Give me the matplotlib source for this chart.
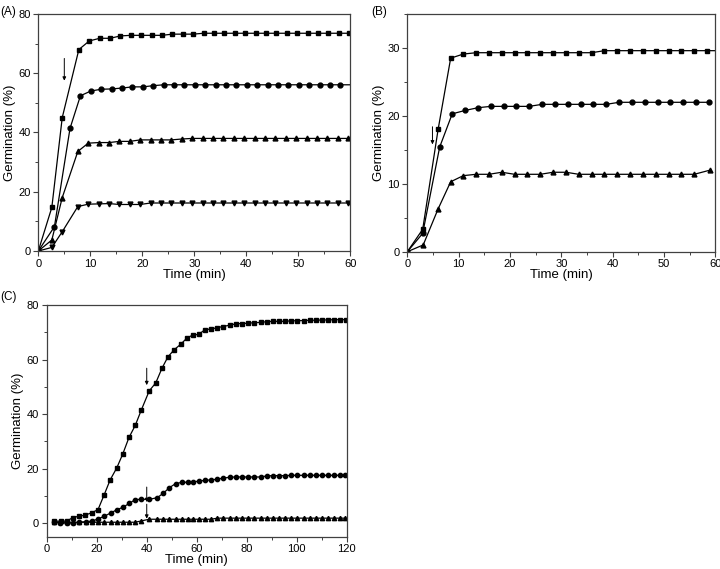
import matplotlib
matplotlib.use('Agg')
import matplotlib.pyplot as plt
from matplotlib.ticker import MultipleLocator

plt.rcParams['font.family'] = ['Liberation Sans', 'DejaVu Sans']

# Panel A
a_sq_t = [0, 2.6, 4.6, 7.8, 9.8, 11.8, 13.8, 15.8, 17.8, 19.8, 21.8, 23.8, 25.8, 27.8, 29.8,
          31.8, 33.8, 35.8, 37.8, 39.8, 41.8, 43.8, 45.8, 47.8, 49.8, 51.8, 53.8, 55.8, 57.8, 59.8]
a_sq = [0, 14.7, 45.0, 68.0, 70.9, 71.8, 71.8, 72.6, 72.8, 72.8, 72.8, 72.8, 73.2, 73.2, 73.2] + [73.5] * 15
a_ci_t = [0, 3.1, 6.1, 8.1, 10.1, 12.1, 14.1, 16.1, 18.1, 20.1, 22.1, 24.1, 26.1, 28.1, 30.1,
          32.1, 34.1, 36.1, 38.1, 40.1, 42.1, 44.1, 46.1, 48.1, 50.1, 52.1, 54.1, 56.1, 58.1, 60.5]
a_ci = [0, 8.2, 41.4, 52.4, 54.0, 54.6, 54.7, 55.0, 55.4, 55.4, 55.8] + [56.1] * 19
a_tr_t = [0, 2.6, 4.6, 7.6, 9.6, 11.6, 13.6, 15.6, 17.6, 19.6, 21.6, 23.6, 25.6, 27.6, 29.6,
          31.6, 33.6, 35.6, 37.6, 39.6, 41.6, 43.6, 45.6, 47.6, 49.6, 51.6, 53.6, 55.6, 57.6, 59.6]
a_up = [0, 3.7, 18.0, 33.6, 36.4, 36.6, 36.6, 37.0, 37.0, 37.5, 37.5, 37.5, 37.5, 37.8] + [38.0] * 16
a_dn = [0, 1.2, 6.5, 15.0, 15.8, 15.9, 16.0, 15.7, 15.7, 15.7] + [16.2] * 20

# Panel B
b_sq_t = [0, 3.0, 6.0, 8.45, 10.9, 13.4, 15.9, 18.4, 20.9, 23.4, 25.9, 28.4, 30.9, 33.4, 35.9,
          38.4, 40.9, 43.4, 45.9, 48.4, 50.9, 53.4, 55.9, 58.4, 60.9]
b_sq = [0, 3.3, 18.0, 28.5, 29.1, 29.3] + [29.3] * 9 + [29.6] * 10
b_ci_t = [0, 3.0, 6.3, 8.75, 11.25, 13.75, 16.25, 18.75, 21.25, 23.75, 26.25, 28.75, 31.25,
          33.75, 36.25, 38.75, 41.25, 43.75, 46.25, 48.75, 51.25, 53.75, 56.25, 58.75]
b_ci = [0, 2.7, 15.4, 20.3, 20.8, 21.2] + [21.4] * 4 + [21.7] * 6 + [22.0] * 8
b_tr_t = [0, 3.1, 6.0, 8.45, 10.9, 13.4, 15.9, 18.4, 20.9, 23.4, 25.9, 28.4, 30.9, 33.4, 35.9,
          38.4, 40.9, 43.4, 45.9, 48.4, 50.9, 53.4, 55.9, 58.9]
b_tr = [0, 1.0, 6.3, 10.3, 11.2, 11.4, 11.4, 11.7, 11.4, 11.4, 11.4, 11.7, 11.7] + [11.4] * 10 + [12.0]

# Panel C
c_sq_t = [2.9, 5.6, 8.0, 10.4, 12.9, 15.4, 18.0, 20.5, 22.9, 25.4, 28.0, 30.4, 32.9, 35.4, 37.8,
          41.0, 43.6, 46.1, 48.5, 51.0, 53.6, 56.0, 58.4, 60.8, 63.2, 65.6, 68.0, 70.4, 73.3, 75.7,
          78.1, 80.5, 82.9, 85.6, 88.2, 90.6, 93.0, 95.4, 97.8, 100.2, 102.9, 105.3, 107.7, 110.1,
          112.5, 114.9, 117.3, 119.7]
c_sq = [0.7, 0.7, 0.7, 2.0, 2.5, 2.9, 3.8, 4.9, 10.2, 15.9, 20.2, 25.3, 31.4, 35.8, 41.4,
        48.5, 51.4, 56.8, 61.0, 63.6, 65.6, 67.8, 69.0, 69.2, 70.9, 71.2, 71.6, 72.1, 72.6, 73.1,
        73.2, 73.3, 73.5, 73.6, 73.9, 74.0, 74.0, 74.0, 74.2, 74.2, 74.3, 74.4, 74.4, 74.5,
        74.5, 74.6, 74.6, 74.6]
c_ci_t = [2.9, 5.3, 8.0, 10.5, 13.0, 15.6, 18.1, 20.5, 23.0, 25.6, 28.1, 30.5, 33.0, 35.4, 37.9,
          41.0, 44.2, 46.7, 49.1, 51.6, 54.0, 56.4, 58.6, 61.0, 63.4, 65.8, 68.2, 70.6, 73.3, 75.7,
          78.1, 80.5, 82.9, 85.6, 88.2, 90.6, 93.0, 95.4, 97.8, 100.2, 102.9, 105.3, 107.7, 110.1,
          112.5, 114.9, 117.3, 119.4]
c_ci = [0.25, 0, 0, 0, 0.25, 0.5, 0.7, 1.5, 2.5, 3.7, 4.9, 5.8, 7.2, 8.6, 8.7,
        8.7, 9.3, 11.0, 13.0, 14.5, 14.9, 15.0, 15.1, 15.4, 15.7, 15.8, 16.1, 16.5, 16.8, 16.9,
        16.9, 16.9, 16.9, 16.9, 17.3, 17.4, 17.4, 17.4] + [17.5] * 10
c_tr = [0.3] * 14 + [0.8] + [1.4] * 11 + [1.8] * 22

# arrows: (t, y_from, y_to)
a_arrows = [(5.0, 65.0, 57.5)]
b_arrows = [(4.9, 18.4, 15.8)]
c_arrows = [(40, 56.8, 50.6), (40, 13.2, 7.7), (40, 6.9, 1.6)]

SPINE = '#404040'


def style_axes(ax, xmax, xmaj, ymin, ymax, ymaj):
    ax.set_xlim(0, xmax)
    ax.set_ylim(ymin, ymax)
    ax.xaxis.set_major_locator(MultipleLocator(xmaj))
    ax.xaxis.set_minor_locator(MultipleLocator(xmaj / 2))
    ax.yaxis.set_major_locator(MultipleLocator(ymaj))
    ax.yaxis.set_minor_locator(MultipleLocator(ymaj / 2))
    for s in ax.spines.values():
        s.set_color(SPINE)
        s.set_linewidth(0.9)
    ax.tick_params(which='major', direction='out', length=3.5, width=0.8,
                   color=SPINE, labelsize=8, pad=2)
    ax.tick_params(which='minor', direction='out', length=2, width=0.7, color=SPINE)
    ax.set_xlabel('Time (min)', fontsize=9.5, labelpad=0)
    ax.set_ylabel('Germination (%)', fontsize=9.5, labelpad=2)


def series(ax, t, y, m, ms=3.5):
    ax.plot(t, y, '-', color='k', lw=0.9, marker=m, ms=ms, mfc='k', mec='k')


def arrows(ax, arr):
    for t, y0, y1 in arr:
        ax.annotate('', xy=(t, y1), xytext=(t, y0),
                    arrowprops=dict(arrowstyle='-|>', color='k', lw=0.7,
                                    mutation_scale=5, shrinkA=0, shrinkB=0))


fig = plt.figure(figsize=(7.2, 5.69), dpi=100)

axA = fig.add_axes([0.0532, 0.5589, 0.4333, 0.4165])
series(axA, a_sq_t, a_sq, 's')
series(axA, a_ci_t, a_ci, 'o')
series(axA, a_tr_t, a_up, '^')
series(axA, a_tr_t, a_dn, 'v')
arrows(axA, a_arrows)
style_axes(axA, 60, 10, 0, 80, 20)

axB = fig.add_axes([0.5657, 0.5576, 0.4278, 0.4178])
series(axB, b_sq_t, b_sq, 's')
series(axB, b_ci_t, b_ci, 'o')
series(axB, b_tr_t, b_tr, '^')
arrows(axB, b_arrows)
style_axes(axB, 60, 10, 0, 35, 10)

axC = fig.add_axes([0.0649, 0.0568, 0.4167, 0.4072])
series(axC, c_sq_t, c_sq, 's', 3.1)
series(axC, c_ci_t, c_ci, 'o', 3.1)
series(axC, c_ci_t, c_tr, '^', 3.1)
arrows(axC, c_arrows)
style_axes(axC, 120, 20, -5, 80, 20)

fig.text(0.0, 0.99, '(A)', fontsize=8.5, va='top', ha='left')
fig.text(0.515, 0.99, '(B)', fontsize=8.5, va='top', ha='left')
fig.text(0.0, 0.488, '(C)', fontsize=8.5, va='top', ha='left')

fig.savefig('out.png', dpi=100)
